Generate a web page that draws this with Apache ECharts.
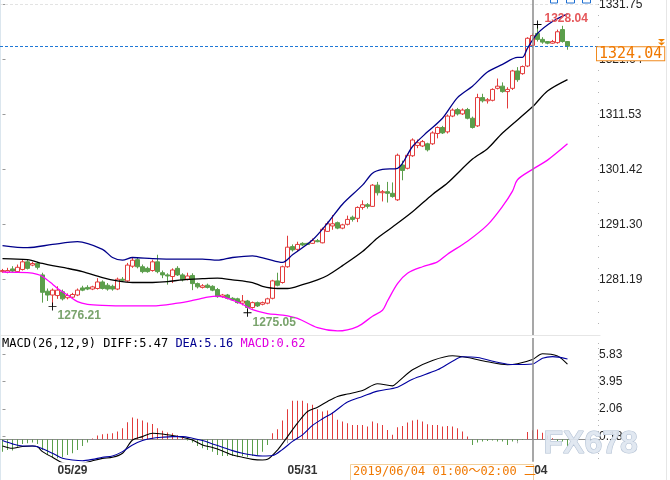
<!DOCTYPE html>
<html>
<head>
<meta charset="utf-8">
<script src="https://cdn.jsdelivr.net/npm/echarts@6/dist/echarts.min.js"></script>
<style>
html,body{margin:0;padding:0;background:#fff;}
#main{width:670px;height:480px;}
</style>
</head>
<body>
<div id="main"></div>
<script>
// 1小时K线 开/收/高/低
var opens = [1282.6,1282.5,1283.1,1282.6,1283.0,1284.4,1283.8,1284.1,1282.0,1279.0,
  1278.3,1278.2,1278.9,1277.8,1277.9,1278.3,1279.6,1279.7,1279.4,1279.5,
  1280.7,1280.1,1279.9,1279.4,1281.2,1280.9,1283.6,1284.8,1283.5,1283.2,
  1282.8,1284.4,1282.4,1282.0,1281.7,1283.2,1282.0,1281.2,1281.9,1280.4,
  1279.7,1280.1,1279.9,1279.3,1278.0,1278.3,1277.7,1277.6,1276.8,1277.2,
  1276.0,1276.9,1276.6,1276.8,1277.7,1280.9,1280.6,1283.5,1287.2,1286.7,
  1287.8,1287.8,1287.8,1288.3,1287.9,1290.0,1291.0,1291.6,1290.6,1291.3,
  1292.6,1292.4,1294.4,1294.9,1294.6,1298.5,1297.1,1297.3,1297.0,1295.8,
  1302.2,1301.6,1303.9,1305.8,1305.7,1306.1,1306.1,1308.0,1309.1,1308.3,
  1311.2,1312.4,1311.6,1312.4,1310.8,1309.4,1314.6,1314.0,1314.1,1316.3,
  1316.7,1315.7,1316.3,1319.5,1319.0,1320.4,1324.2,1326.4,1325.3,1324.9,
  1324.6,1324.7,1327.1,1324.9];
var closes = [1282.8,1282.8,1282.7,1283.4,1284.4,1283.2,1284.1,1283.4,1278.8,1278.3,
  1279.2,1279.2,1277.6,1278.2,1278.4,1279.2,1279.2,1279.4,1279.8,1280.7,
  1279.5,1279.4,1279.4,1281.2,1281.0,1283.8,1284.7,1283.5,1282.6,1282.6,
  1284.4,1282.6,1282.0,1281.8,1282.9,1282.0,1281.1,1281.8,1280.4,1279.8,
  1280.0,1279.7,1279.2,1278.0,1278.3,1277.7,1277.4,1276.9,1277.2,1276.0,
  1276.9,1276.3,1276.9,1277.6,1280.9,1280.1,1283.5,1287.1,1286.6,1287.6,
  1287.5,1287.6,1288.3,1288.1,1290.4,1291.4,1291.4,1290.6,1291.2,1292.2,
  1292.2,1294.4,1294.9,1294.6,1298.5,1297.1,1297.3,1297.0,1296.4,1304.0,
  1301.2,1304.0,1306.8,1306.3,1306.5,1305.0,1308.1,1309.1,1308.1,1311.2,
  1312.3,1311.6,1312.3,1310.8,1309.1,1314.6,1314.0,1314.2,1316.1,1316.7,
  1315.7,1316.1,1319.5,1317.9,1320.3,1325.5,1326.0,1325.3,1324.8,1324.6,
  1324.9,1326.7,1324.9,1324.04];
var highs = [1283.1,1283.3,1283.6,1283.9,1284.8,1284.9,1284.4,1284.4,1282.4,1279.5,
  1279.5,1279.9,1279.3,1278.6,1278.7,1279.5,1280.0,1280.1,1280.0,1281.4,
  1281.0,1280.5,1280.2,1281.5,1281.6,1284.2,1285.1,1285.1,1283.9,1283.5,
  1284.8,1285.7,1282.8,1282.3,1283.2,1283.6,1282.3,1282.4,1282.3,1280.6,
  1280.3,1280.4,1280.1,1279.6,1278.5,1278.5,1277.9,1277.8,1278.3,1277.4,
  1277.1,1277.1,1277.1,1277.8,1281.1,1282.4,1283.7,1289.2,1287.6,1288.1,
  1288.0,1287.9,1288.7,1288.6,1290.7,1291.8,1293.0,1291.8,1291.4,1292.9,
  1292.9,1294.6,1295.7,1295.2,1298.7,1299.1,1297.6,1299.1,1299.0,1304.3,
  1303.0,1304.3,1307.1,1306.9,1306.8,1306.3,1308.4,1309.3,1309.4,1311.5,
  1312.6,1312.7,1312.6,1312.7,1311.1,1315.3,1315.3,1314.5,1316.3,1318.1,
  1317.4,1316.5,1319.7,1320.2,1320.5,1325.7,1326.4,1328.04,1325.7,1325.0,
  1325.2,1327.1,1327.8,1325.0];
var lows = [1282.4,1282.3,1282.5,1282.4,1282.8,1283.0,1283.6,1283.0,1276.9,1277.2,
  1276.21,1277.6,1277.3,1277.5,1277.7,1278.1,1279.0,1279.2,1279.2,1279.3,
  1279.3,1279.1,1279.1,1279.2,1280.8,1280.7,1283.3,1283.2,1282.3,1282.4,
  1282.6,1282.3,1281.4,1280.2,1280.5,1281.8,1280.8,1281.0,1279.2,1279.5,
  1279.5,1279.5,1279.0,1277.8,1277.8,1277.5,1277.2,1276.7,1276.4,1275.05,
  1275.8,1276.1,1276.4,1276.6,1277.5,1279.9,1280.4,1283.3,1286.3,1286.2,
  1287.3,1287.5,1287.7,1288.0,1287.8,1289.9,1290.3,1290.4,1290.4,1291.1,
  1291.8,1291.7,1294.0,1294.2,1294.5,1296.6,1295.5,1295.3,1296.2,1295.6,
  1299.4,1301.4,1303.7,1305.3,1305.5,1304.7,1305.9,1307.1,1307.9,1308.0,
  1311.0,1311.3,1311.4,1310.6,1308.9,1309.2,1313.7,1313.5,1313.9,1316.1,
  1315.5,1312.6,1316.0,1317.5,1318.8,1320.2,1323.8,1324.9,1324.5,1324.4,
  1324.5,1324.5,1324.7,1323.4];

// 布林带 [K线序号, 值]
var bollUpper = [[0,1287.4],[5,1287.0],[10,1287.6],[15,1288.1],[20,1286.7],[22,1285.2],[24,1284.7],
  [26,1285.2],[30,1285.0],[35,1284.9],[40,1284.9],[43,1284.7],[46,1285.2],[50,1285.5],[53,1284.9],
  [56,1284.3],[58,1285.7],[62,1288.4],[65,1291.5],[68,1295.0],[72,1298.5],[74,1300.7],[76,1301.4],
  [79,1301.6],[82,1305.6],[85,1308.3],[88,1310.8],[91,1314.6],[94,1316.7],[97,1319.3],[100,1320.7],
  [103,1322.0],[104,1322.0],[105,1323.7],[107,1326.4],[110,1328.6],[113,1330.0]];
var bollMid = [[0,1285.0],[5,1284.8],[8,1284.1],[10,1283.7],[13,1283.2],[16,1282.6],[20,1281.5],
  [23,1280.9],[26,1280.6],[30,1280.6],[33,1280.75],[36,1281.1],[40,1281.3],[43,1281.4],[46,1281.1],
  [50,1280.6],[52,1279.9],[55,1279.5],[57,1279.5],[60,1280.2],[63,1281.1],[65,1281.9],[68,1283.7],
  [72,1286.3],[75,1288.8],[78,1290.8],[82,1293.6],[86,1296.8],[89,1298.9],[94,1303.3],[97,1305.2],
  [100,1308.1],[106,1312.9],[109,1315.8],[113,1317.9]];
var bollLower = [[0,1282.5],[5,1282.4],[7,1282.1],[8,1281.7],[10,1280.3],[11,1279.5],[13,1278.3],
  [15,1277.1],[17,1276.6],[20,1276.4],[25,1276.3],[30,1276.3],[35,1276.8],[38,1277.3],[41,1277.9],
  [43,1278.1],[45,1277.7],[48,1276.6],[50,1275.6],[53,1274.9],[56,1274.6],[59,1274.0],[63,1272.3],
  [67,1271.7],[71,1272.5],[74,1274.4],[76,1275.5],[77,1277.2],[79,1280.4],[81,1282.3],[84,1283.5],
  [87,1284.4],[89,1285.8],[93,1288.2],[97,1291.2],[100,1294.6],[102,1297.4],[103,1299.5],
  [106,1301.4],[109,1303.1],[113,1306.1]];

// MACD(26,12,9)
var macdBars = [-0.85,-0.73,-0.78,-0.51,-0.32,-0.28,-0.23,-0.32,-0.73,-1.08,
  -1.24,-1.31,-1.24,-1.08,-0.96,-0.73,-0.46,-0.23,0.05,0.25,
  0.34,0.37,0.41,0.53,0.75,1.17,1.49,1.40,1.28,1.14,
  1.05,0.75,0.59,0.46,0.41,0.27,0.11,-0.09,-0.23,-0.46,
  -0.62,-0.73,-0.85,-1.08,-1.15,-1.15,-1.15,-1.24,-1.15,-1.24,
  -1.15,-1.08,-0.85,-0.39,0.41,0.69,1.28,2.06,2.63,2.63,
  2.63,2.47,2.36,2.06,1.90,1.97,1.83,1.33,1.21,1.10,
  0.98,0.98,0.98,0.87,1.21,1.10,0.98,0.64,0.30,0.82,
  0.91,1.14,1.28,1.33,1.21,1.03,0.98,0.98,0.87,0.91,
  0.87,0.75,0.53,0.18,-0.39,-0.23,-0.16,-0.12,-0.09,-0.16,
  -0.16,-0.39,-0.16,-0.12,-0.05,0.50,0.62,0.66,0.45,0.25,
  0.06,-0.16,-0.16,-0.50];
var diffLine = [[0,-0.46],[2,-0.62],[4,-0.5],[6,-0.46],[7,-0.51],[8,-0.85],[10,-1.24],[12,-1.61],
  [14,-1.70],[16,-1.65],[18,-1.47],[20,-1.31],[22,-1.24],[24,-0.96],[26,-0.05],[28,0.18],[30,0.41],
  [32,0.36],[34,0.25],[36,0.14],[38,-0.05],[40,-0.39],[42,-0.57],[44,-0.80],[46,-1.08],[48,-1.24],
  [50,-1.38],[52,-1.42],[53,-1.38],[55,-0.74],[57,0.18],[59,1.10],[61,1.90],[63,2.2],[65,2.59],
  [67,2.93],[69,3.1],[72,3.34],[75,3.8],[78,3.66],[79,3.9],[82,4.76],[86,5.4],[90,5.72],[93,5.6],
  [97,5.31],[101,5.11],[103,5.18],[106,5.47],[108,5.86],[111,5.7],[113,5.15]];
var deaLine = [[0,-0.09],[2,-0.32],[4,-0.46],[6,-0.46],[7,-0.51],[10,-0.96],[12,-1.31],[14,-1.42],
  [16,-1.47],[18,-1.38],[20,-1.24],[22,-1.15],[24,-0.85],[26,-0.39],[28,-0.09],[30,0.07],[32,0.14],
  [34,0.18],[36,0.18],[38,0.07],[40,-0.09],[42,-0.32],[44,-0.55],[46,-0.78],[48,-0.96],[50,-1.08],
  [52,-1.15],[54,-1.12],[56,-0.7],[58,-0.15],[60,0.3],[62,0.95],[64,1.4],[66,1.8],[69,2.55],
  [72,2.93],[75,3.3],[79,3.57],[82,4.12],[87,4.76],[90,5.35],[92,5.65],[95,5.6],[99,5.28],
  [102,5.12],[106,5.16],[108,5.55],[110,5.66],[113,5.5]];

// 坐标刻度与标注
var tickIdx = [11, 57, 103];
var tickText = ['05/29', '05/31', '06/04'];
var priceTicks = [1281.19, 1291.30, 1301.42, 1311.53, 1321.64, 1331.75];
var macdTicks = [0.18, 2.06, 3.95, 5.83];
var lastPrice = 1324.04;
var crossIdx = 106;
var extremes = [{i: 10, v: 1276.21}, {i: 49, v: 1275.05}, {i: 107, v: 1328.04}];
var macdNow = {diff: 5.47, dea: 5.16, macd: 0.62};
var crossTime = '2019/06/04 01:00～02:00 二';

var SLOTS = 120;
var cats = [];
for (var i = 0; i < SLOTS; i++) cats.push(String(i));

var kdata = opens.map(function (o, i) { return [o, closes[i], lows[i], highs[i]]; });

// 右侧坐标轴上的小点
function dots(base, step, lo, hi) {
  var a = [];
  for (var v = base; v >= lo; v -= step) a.unshift(v);
  for (v = base + step; v <= hi; v += step) a.push(v);
  return a;
}

var RED = '#e23b3b', GREEN = '#5b9e4b';
var axisFont = 'Liberation Sans, Arial, sans-serif';

var myChart = echarts.init(document.getElementById('main'));

var labelCfg = [
  {offset: [-4, 9], color: '#79a36c'},
  {offset: [-4, 10], color: '#79a36c'},
  {offset: [-2, -6], color: '#e5575a'}
];

var marks = extremes.map(function (e, k) {
  return {coord: [String(e.i), e.v], value: e.v.toFixed(2),
    label: {show: true, position: 'right', offset: labelCfg[k].offset, color: labelCfg[k].color,
      fontSize: 12, fontWeight: 'bold', fontFamily: axisFont, formatter: e.v.toFixed(2)}};
});
// 最新价标签(挂在价格线下方)
marks.push({coord: [String(SLOTS - 1), lastPrice], symbol: 'rect', symbolSize: 1,
  itemStyle: {color: 'rgba(0,0,0,0)'},
  label: {show: true, position: [0, 1.5], align: 'left', verticalAlign: 'top',
    formatter: lastPrice.toFixed(2), color: '#f07800', fontSize: 15,
    fontFamily: 'DejaVu Sans Mono, monospace', backgroundColor: '#fff',
    borderColor: '#f08a1e', borderWidth: 1, padding: [0, 2, 0, 2], lineHeight: 13}});

var option = {
  animation: false,
  backgroundColor: '#fff',
  grid: [
    {left: 0, top: 0, width: 600, height: 335, outerBoundsMode: 'none'},
    {left: 0, top: 338, width: 600, height: 123.7, outerBoundsMode: 'none'}
  ],
  xAxis: [
    {type: 'category', gridIndex: 0, data: cats, boundaryGap: true,
      axisLine: {show: true, lineStyle: {color: '#e6e6e6'}}, axisTick: {show: false}, axisLabel: {show: false}},
    {type: 'value', gridIndex: 0, min: -0.5, max: SLOTS - 0.5, show: false},
    {type: 'category', gridIndex: 1, data: cats, boundaryGap: true,
      axisLine: {show: true, lineStyle: {color: '#8c8c8c'}},
      axisTick: {show: true, alignWithLabel: true, length: 4, lineStyle: {color: '#aaa'},
        interval: function (idx) { return tickIdx.indexOf(idx) >= 0; }},
      axisLabel: {show: true, align: 'left', margin: 3, fontSize: 12, fontWeight: 'bold', color: '#333',
        fontFamily: axisFont,
        interval: function (idx) { return tickIdx.indexOf(idx) >= 0; },
        formatter: function (v, idx) { return tickText[tickIdx.indexOf(idx)] || ''; }}},
    {type: 'value', gridIndex: 1, min: -0.5, max: SLOTS - 0.5, show: false}
  ],
  yAxis: [
    {type: 'value', gridIndex: 0, position: 'right', offset: -2, min: 1270.95, max: 1332.54,
      axisLine: {show: false}, splitLine: {show: false},
      axisTick: {show: true, customValues: priceTicks, length: 3, lineStyle: {color: '#999'}},
      axisLabel: {customValues: priceTicks, margin: 1, fontSize: 12, color: '#222', fontFamily: axisFont,
        formatter: function (v) { return v.toFixed(2); }}},
    {type: 'value', gridIndex: 0, position: 'right', offset: -2, min: 1270.95, max: 1332.54,
      axisLine: {show: false}, splitLine: {show: false}, axisLabel: {show: false},
      axisTick: {show: true, customValues: dots(1281.19, 2.0224, 1271.5, 1332.3), length: 1,
        lineStyle: {color: '#b5b5b5'}}},
    {type: 'value', gridIndex: 1, position: 'right', offset: -2, min: -1.54, max: 6.94,
      axisLine: {show: false}, splitLine: {show: false},
      axisTick: {show: true, customValues: macdTicks, length: 3, lineStyle: {color: '#999'}},
      axisLabel: {customValues: macdTicks, margin: 1, fontSize: 12, color: '#222', fontFamily: axisFont,
        formatter: function (v) { return v.toFixed(2); }}},
    {type: 'value', gridIndex: 1, position: 'right', offset: -2, min: -1.54, max: 6.94,
      axisLine: {show: false}, splitLine: {show: false}, axisLabel: {show: false},
      axisTick: {show: true, customValues: dots(0.18, 0.3766, -1.4, 6.8), length: 1,
        lineStyle: {color: '#b5b5b5'}}}
  ],
  series: [
    {
      type: 'candlestick', xAxisIndex: 0, yAxisIndex: 0, data: kdata, barWidth: 4,
      itemStyle: {color: '#fff', color0: GREEN, borderColor: RED, borderColor0: GREEN, borderWidth: 1},
      markLine: {
        silent: true, symbol: 'none',
        data: [
          {yAxis: 1331.75, lineStyle: {color: '#e3e3e3', type: [3, 2], width: 1}, label: {show: false}},
          {yAxis: lastPrice, lineStyle: {color: '#1f78d6', type: [3, 2], width: 1.2}, label: {show: false}}
        ]
      },
      markPoint: {
        silent: true,
        symbol: 'path://M0,4h9v1h-9zM4,0h1v9h-1z', symbolSize: 8,
        itemStyle: {color: '#000'},
        data: marks
      }
    },
    {type: 'line', name: 'UP', xAxisIndex: 1, yAxisIndex: 0, data: bollUpper, showSymbol: false, smooth: 0.3,
      lineStyle: {color: '#00008b', width: 1.3},
      markLine: {silent: true, symbol: 'none', label: {show: false},
        lineStyle: {color: '#8a8a8a', type: 'solid', width: 1.5}, data: [{xAxis: crossIdx}]}},
    {type: 'line', name: 'MID', xAxisIndex: 1, yAxisIndex: 0, data: bollMid, showSymbol: false, smooth: 0.3,
      lineStyle: {color: '#000', width: 1.3}},
    {type: 'line', name: 'DN', xAxisIndex: 1, yAxisIndex: 0, data: bollLower, showSymbol: false, smooth: 0.3,
      lineStyle: {color: '#ff00ff', width: 1.3}},
    {type: 'bar', name: 'MACD', xAxisIndex: 2, yAxisIndex: 2, data: macdBars, barWidth: 1,
      itemStyle: {color: function (p) { return p.value >= 0 ? RED : GREEN; }}},
    {type: 'line', name: 'DIFF', xAxisIndex: 3, yAxisIndex: 2, data: diffLine, showSymbol: false, smooth: 0.3,
      lineStyle: {color: '#000', width: 1.1},
      markLine: {silent: true, symbol: 'none', label: {show: false},
        lineStyle: {color: '#8a8a8a', type: 'solid', width: 1.5}, data: [{xAxis: crossIdx}]}},
    {type: 'line', name: 'DEA', xAxisIndex: 3, yAxisIndex: 2, data: deaLine, showSymbol: false, smooth: 0.3,
      lineStyle: {color: '#0000a0', width: 1.1}}
  ],
  graphic: [
    {type: 'rect', left: 0, top: 0, shape: {width: 1, height: 480}, style: {fill: '#dbe6ee'}, silent: true},
    {type: 'rect', left: 666, top: 0, shape: {width: 1, height: 480}, style: {fill: '#e6e6e6'}, silent: true},
    {type: 'rect', shape: {x: 550.5, y: -8, width: 7, height: 11}, style: {fill: '#fff', stroke: '#1f6fd0'}, silent: true},
    {type: 'rect', shape: {x: 566.5, y: -8, width: 8, height: 11}, style: {fill: '#fff', stroke: '#1f6fd0'}, silent: true},
    {type: 'rect', shape: {x: 582.5, y: -8, width: 8, height: 11}, style: {fill: '#fff', stroke: '#1f6fd0'}, silent: true},
    {type: 'polygon', shape: {points: [[658, 39], [665, 39], [661.5, 42]]}, style: {fill: '#f08000'}, silent: true},
    {type: 'polygon', shape: {points: [[658, 42.5], [665, 42.5], [661.5, 45.5]]}, style: {fill: '#f08000'}, silent: true},
    {type: 'text', left: 2, top: 338, silent: true,
      style: {
        text: '{a|MACD(26,12,9) DIFF:' + macdNow.diff.toFixed(2) + ' }{b|DEA:' + macdNow.dea.toFixed(2) +
          ' }{c|MACD:' + macdNow.macd.toFixed(2) + '}',
        font: '12px DejaVu Sans Mono, monospace',
        rich: {
          a: {fill: '#000', font: '12px DejaVu Sans Mono, monospace'},
          b: {fill: '#000090', font: '12px DejaVu Sans Mono, monospace'},
          c: {fill: '#e000e0', font: '12px DejaVu Sans Mono, monospace'}
        }
      }},
    {type: 'text', left: 543, top: 428, z: 100, silent: true,
      style: {text: 'FX678', font: 'bold 32px Liberation Sans, Arial, sans-serif',
        fill: 'rgba(222,230,240,0.92)', stroke: '#b2c0d3', lineWidth: 1}},
    {type: 'rect', shape: {x: 350.5, y: 464.5, width: 183, height: 18}, z: 100,
      style: {fill: '#fff', stroke: '#f3cf9a'}, silent: true},
    {type: 'text', left: 353, top: 466, z: 101, silent: true,
      style: {text: crossTime, fill: '#f07800',
        font: '12px DejaVu Sans Mono, Noto Sans CJK SC, monospace'}}
  ]
};

myChart.setOption(option);
</script>
</body>
</html>
